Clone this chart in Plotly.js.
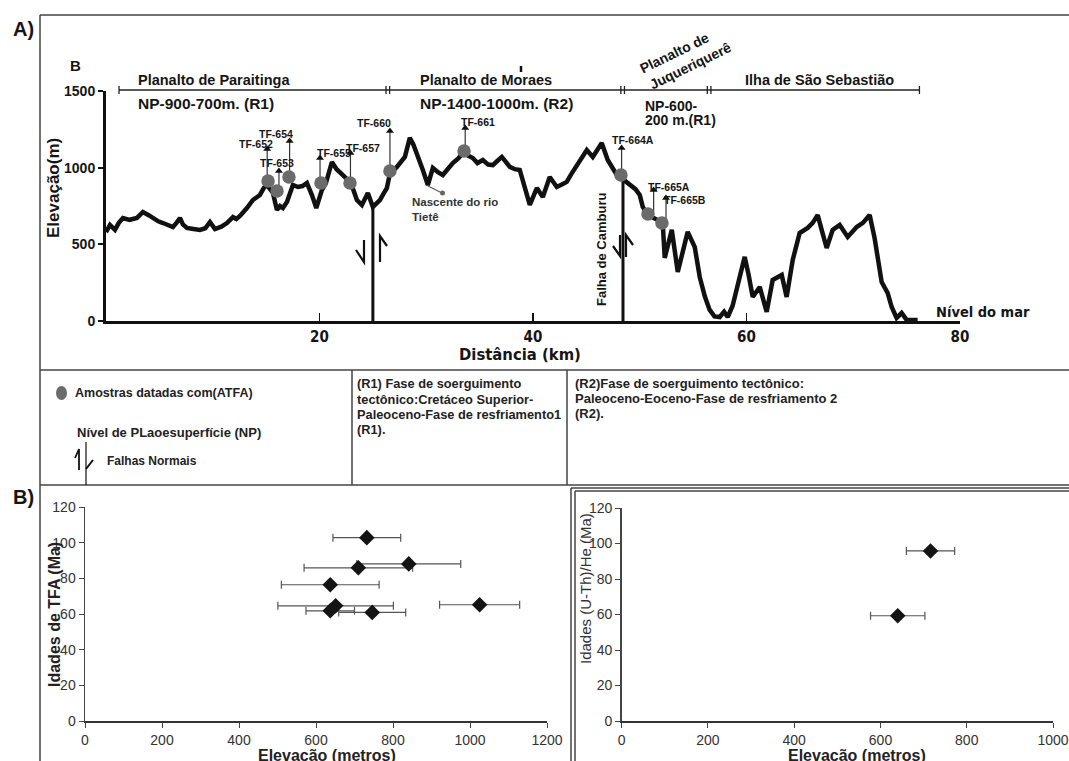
<!DOCTYPE html>
<html><head><meta charset="utf-8">
<script src="https://cdn.plot.ly/plotly-3.0.1.min.js"></script>
<style>html,body{margin:0;padding:0;background:#fff;}#chart{width:1069px;height:761px;}</style>
</head><body><div id="chart"></div>
<script>
// ---------- DATA ----------
const profileKm = [0,0.37,0.84,1.2,1.59,2.2,2.9,3.46,4.0,4.4,4.9,5.34,5.8,6.27,6.6,6.93,7.2,7.58,8.2,8.8,9.3,9.74,10.21,10.8,11.33,11.89,12.2,12.55,13.2,13.76,14.42,14.8,15.07,15.64,16.01,16.3,16.57,16.95,17.51,17.98,18.4,18.82,19.3,19.7,20.22,20.6,21.16,21.6,22.19,22.85,23.2,23.5,23.97,24.53,25.0,25.66,26.0,26.31,26.59,27.25,28.0,28.46,28.8,29.12,29.68,30.15,30.62,31.1,31.55,32.0,32.49,33.0,33.43,33.9,34.36,34.8,35.3,35.8,36.24,36.6,37.08,37.83,38.3,38.76,39.2,39.7,40.36,40.92,41.57,42.23,42.7,43.16,43.6,44.1,44.6,45.04,45.6,46.0,46.44,47.0,47.85,48.5,49.06,49.6,50.0,50.28,50.75,51.4,52.15,52.34,53.0,53.56,54.49,55.15,55.62,56.1,56.55,57.0,57.49,57.9,58.24,58.7,59.08,59.83,60.2,60.58,61.24,61.89,62.45,63.3,63.76,64.33,64.98,65.73,66.2,66.67,67.1,67.51,68.07,68.73,69.48,70.32,70.9,71.54,72.0,72.66,73.22,73.6,74.06,74.53,75.0,76.03];
const profileElev = [580,626,594,640,672,660,672,711,690,672,650,639,625,613,640,672,630,607,600,594,605,646,600,615,639,678,665,685,737,789,822,870,887,835,724,750,737,776,887,874,880,900,820,737,854,900,1037,990,952,907,850,789,757,835,744,789,830,867,960,1005,1070,1194,1150,1096,985,887,998,970,952,990,1030,1060,1096,1080,1063,1030,1050,1020,1017,1040,1070,1005,990,985,880,757,867,809,939,874,890,907,960,1017,1060,1115,1070,1120,1161,1050,952,920,887,860,822,744,691,670,642,411,594,320,581,483,287,160,72,30,26,60,26,100,202,418,300,157,222,59,267,300,157,398,574,607,640,691,580,476,594,626,548,613,640,691,541,254,183,91,20,52,7,7];

const sampleNames = ['TF-652','TF-653','TF-654','TF-655','TF-657','TF-660','TF-661','TF-664A','TF-665A','TF-665B'];
const sampleKm    = [15.18,16.02,17.14,20.14,22.86,26.60,33.54,48.24,50.77,52.08];
const sampleElev  = [913,848,939,900,900,978,1109,952,698,639];
const arrowKm     = [15.1,16.2,17.2,20.05,22.9,26.6,33.65,48.3,51.3,52.46];
const arrowTipElev= [1122,978,1174,1063,1096,1239,1259,1128,854,802];

const faultKm   = [25.0, 48.43];
const faultTopElev = [757, 930];

const regionNames = ['Planalto de Paraitinga','Planalto de Moraes','Planalto de Juqueriquerê','Ilha de São Sebastião'];
const regionBoundsKm = [1.22, 26.4, 48.4, 56.5, 76.2];

const profileXTicks = [20,40,60,80];
const profileYTicks = [0,500,1000,1500];

const tfaElev = [732,841,710,637,651,637,746,1025];
const tfaAge  = [102.8,88.1,85.9,76.4,64.6,61.8,60.9,65.2];
const tfaErr  = [88,135,141,127,150,63,87,104];

const uthElev = [716,640];
const uthAge  = [95.8,59.3];
const uthErr  = [56,63];

// ---------- HELPERS ----------
const W=1069, H=761;
const px = x => x/W;
const py = y => 1 - y/H;
const kmPx = km => 106 + km*10.675;
const SANS = 'Liberation Sans, Arial, sans-serif';
const NARROW = 'Liberation Sans Narrow, Arial Narrow, DejaVu Sans Condensed, Liberation Sans, sans-serif';
const INK = '#151515';

// ---------- TRACES ----------
const traces = [];
traces.push({x:profileKm, y:profileElev, mode:'lines', line:{color:'#111', width:4.5}, xaxis:'x', yaxis:'y', hoverinfo:'skip'});
faultKm.forEach((k,i)=>traces.push({x:[k,k], y:[0,faultTopElev[i]], mode:'lines', line:{color:'#111', width:3}, xaxis:'x', yaxis:'y', hoverinfo:'skip'}));
const shX=[], shY=[];
sampleNames.forEach((n,i)=>{ shX.push(arrowKm[i],arrowKm[i],null); shY.push(sampleElev[i], arrowTipElev[i], null); });
traces.push({x:shX, y:shY, mode:'lines', line:{color:'#333', width:1.2}, xaxis:'x', yaxis:'y', hoverinfo:'skip'});
traces.push({x:arrowKm, y:arrowTipElev, mode:'markers', marker:{symbol:'triangle-up', size:7, color:'#111'}, xaxis:'x', yaxis:'y', hoverinfo:'skip'});
traces.push({x:sampleKm, y:sampleElev, mode:'markers', marker:{symbol:'circle', size:13.5, color:'#6b6b6b'}, xaxis:'x', yaxis:'y', text:sampleNames, hoverinfo:'text'});

traces.push({x:tfaElev, y:tfaAge, mode:'markers', xaxis:'x2', yaxis:'y2',
  marker:{symbol:'diamond', size:12, color:'#141414'},
  error_x:{type:'data', array:tfaErr, visible:true, color:'#555', thickness:1.2, width:4}});
traces.push({x:uthElev, y:uthAge, mode:'markers', xaxis:'x3', yaxis:'y3',
  marker:{symbol:'diamond', size:12, color:'#141414'},
  error_x:{type:'data', array:uthErr, visible:true, color:'#555', thickness:1.2, width:4}});

// ---------- SHAPES ----------
const shapes = [];
const L = (x0,y0,x1,y1,c='#444',w=1.5)=>shapes.push({type:'line', xref:'paper', yref:'paper', x0:px(x0), y0:py(y0), x1:px(x1), y1:py(y1), line:{color:c, width:w}});
const P = (pts,c='#111',w=2)=>shapes.push({type:'path', xref:'paper', yref:'paper', path: pts.map((p,i)=>(i?'L ':'M ')+px(p[0])+' '+py(p[1])).join(' '), line:{color:c, width:w}});
// frames
L(40,15,1069,15); L(40,15,40,761);
L(40,370,1069,370); L(40,485,1069,485);
L(352,370,352,485); L(567,370,567,485);
L(571,488,571,761); L(575,491,575,761);
L(571,488,1069,488); L(575,491,1069,491);
// region bracket line
const bY = 90;
L(kmPx(regionBoundsKm[0]), bY, kmPx(regionBoundsKm[4]), bY, '#222', 1.3);
[0,4].forEach(i=>L(kmPx(regionBoundsKm[i]), bY-4, kmPx(regionBoundsKm[i]), bY+4, '#222', 1.3));
[1,2,3].forEach(i=>{ const c=kmPx(regionBoundsKm[i]); L(c-1.8,bY-4,c-1.8,bY+4,'#222',1.3); L(c+1.8,bY-4,c+1.8,bY+4,'#222',1.3); });
L(521,66,521,72,'#111',2.5);
// fault half arrows
P([[364,240],[364,262],[356,250]],'#111',2.2);
P([[380,262],[380,236],[387,246]],'#111',2.2);
P([[620,235],[620,256],[613,246]],'#111',2.2);
P([[626,257],[626,235],[633,245]],'#111',2.2);
// nascente pointer
L(428,186,442,193,'#555',1.2);
shapes.push({type:'circle', xref:'paper', yref:'paper', x0:px(440), x1:px(445), y0:py(190.5), y1:py(195.5), fillcolor:'#666', line:{width:0}});
// legend swatches
shapes.push({type:'circle', xref:'paper', yref:'paper', x0:px(56), x1:px(67), y0:py(386), y1:py(400), fillcolor:'#6b6b6b', line:{width:0}});
P([[79,470],[79,449],[75,458]],'#111',1.8);
L(86,442,86,485,'#111',1.2);
P([[86,469],[93,460]],'#111',2);

// ---------- ANNOTATIONS ----------
const ann = [];
const T = (text,x,y,o={})=>ann.push(Object.assign({xref:'paper', yref:'paper', x:px(x), y:py(y), text, showarrow:false,
   xanchor:'left', yanchor:'middle', font:{family:SANS, size:14.5, color:INK, weight:'bold'}}, o));
T('A)',11,29,{font:{family:SANS,size:20,color:INK,weight:'bold'}});
T('B)',11,497,{font:{family:SANS,size:20,color:INK,weight:'bold'}});
T('B',68,66,{font:{family:SANS,size:15,color:INK,weight:'bold'}});
T(regionNames[0],136,80);
T(regionNames[1],418,80);
T(regionNames[3],819,80,{xanchor:'center'});
T('Planalto de',674,53,{xanchor:'center', textangle:-26, font:{family:SANS,size:14,color:INK,weight:'bold'}});
T('Juqueriquerê',690,66,{xanchor:'center', textangle:-26, font:{family:SANS,size:14,color:INK,weight:'bold'}});
T('NP-900-700m. (R1)',136,103,{font:{family:SANS,size:15.5,color:INK,weight:'bold'}});
T('NP-1400-1000m. (R2)',418,103,{font:{family:SANS,size:15.5,color:INK,weight:'bold'}});
T('NP-600-',643,106,{font:{family:SANS,size:14,color:INK,weight:'bold'}});
T('200 m.(R1)',643,120,{font:{family:SANS,size:14,color:INK,weight:'bold'}});
// sample labels
const labelShift = {'TF-652':[-11,5],'TF-653':[-2,8],'TF-654':[-14,7],'TF-655':[14,5],'TF-657':[13,5],
  'TF-660':[-16,8],'TF-661':[13,6],'TF-664A':[11,8],'TF-665A':[15,3],'TF-665B':[19,-2]};
sampleNames.forEach((n,i)=>ann.push({xref:'x', yref:'y', x:arrowKm[i], y:arrowTipElev[i], text:n, showarrow:false,
  xshift:labelShift[n][0], yshift:labelShift[n][1], font:{family:SANS, size:10.5, color:INK, weight:'bold'}}));
T('Nascente do rio',410,202,{font:{family:SANS,size:11.5,color:'#333',weight:'bold'}});
T('Tietê',410,217,{font:{family:SANS,size:11.5,color:'#333',weight:'bold'}});
T('Falha de Camburu',602,250,{xanchor:'center', textangle:-90, font:{family:SANS,size:13,color:INK,weight:'bold'}});
T('Elevação(m)',53,188,{xanchor:'center', textangle:-90, font:{family:SANS,size:17,color:INK,weight:'bold'}});
T('Distância (km)',520,355,{xanchor:'center', font:{family:NARROW,size:16.5,color:INK,weight:'bold'}});
T('Nível do mar',934,312,{font:{family:NARROW,size:14.5,color:INK,weight:'bold'}});
// legend texts
T('Amostras datadas com(ATFA)',73,393,{font:{family:SANS,size:12.5,color:'#222',weight:'bold'}});
T('Nível de PLaoesuperfície (NP)',75,432,{font:{family:SANS,size:13,color:'#222',weight:'bold'}});
T('Falhas Normais',105,461,{font:{family:SANS,size:12,color:'#222',weight:'bold'}});
['(R1) Fase de soerguimento','tectônico:Cretáceo Superior-','Paleoceno-Fase de resfriamento1','(R1).'].forEach((s,i)=>
  T(s,355,384+i*15.3,{font:{family:SANS,size:12.8,color:'#222',weight:'bold'}}));
['(R2)Fase de soerguimento tectônico:','Paleoceno-Eoceno-Fase de resfriamento 2','(R2).'].forEach((s,i)=>
  T(s,573,384+i*14.5,{font:{family:SANS,size:13,color:'#222',weight:'bold'}}));
// B titles
T('Idades de TFA (Ma)',54,615,{xanchor:'center', textangle:-90, font:{family:SANS,size:16,color:'#222',weight:'bold'}});
T('Elevação (metros)',327,755,{xanchor:'center', font:{family:SANS,size:16,color:'#222',weight:'bold'}});
T('Idades (U-Th)/He (Ma)',585,589,{xanchor:'center', textangle:-90, font:{family:SANS,size:15,color:'#333'}});
T('Elevação (metros)',857,755,{xanchor:'center', font:{family:SANS,size:16,color:'#222',weight:'bold'}});

// ---------- LAYOUT ----------
const bAxisX = (dom, rng, anchor)=>({domain:dom, range:rng, anchor, dtick:200, tick0:0, ticks:'outside', ticklen:5, tickwidth:1, tickcolor:'#444',
   showline:true, linecolor:'#333', linewidth:2.2, showgrid:false, zeroline:false, tickfont:{family:SANS, size:14, color:'#333'}, fixedrange:true});
const bAxisY = (dom, anchor)=>({domain:dom, range:[0,120], anchor, dtick:20, ticks:'outside', ticklen:5, tickwidth:1, tickcolor:'#444',
   showline:true, linecolor:'#444', linewidth:1.5, showgrid:false, zeroline:false, tickfont:{family:SANS, size:14, color:'#333'}, fixedrange:true});

const layout = {
  width:W, height:H, margin:{l:0,r:0,t:0,b:0}, paper_bgcolor:'#fff', plot_bgcolor:'rgba(0,0,0,0)', showlegend:false,
  xaxis:{domain:[px(106),px(960)], range:[0,80], anchor:'y', tickvals:profileXTicks, ticks:'inside', ticklen:8, tickwidth:1.5, tickcolor:'#111',
    showline:true, linecolor:'#111', linewidth:2.5, showgrid:false, zeroline:false,
    tickfont:{family:NARROW, size:15, color:INK, weight:'bold'}, fixedrange:true},
  yaxis:{domain:[py(321),py(91)], range:[0,1500], anchor:'x', tickvals:profileYTicks, ticks:'outside', ticklen:5, tickwidth:2, tickcolor:'#111',
    showline:true, linecolor:'#111', linewidth:3, showgrid:false, zeroline:false,
    tickfont:{family:SANS, size:14, color:INK, weight:'bold'}, fixedrange:true},
  xaxis2: bAxisX([px(85),px(547)],[0,1200],'y2'),
  yaxis2: bAxisY([py(721),py(507)],'x2'),
  xaxis3: bAxisX([px(621.7),px(1053)],[0,1000],'y3'),
  yaxis3: bAxisY([py(721),py(508)],'x3'),
  shapes, annotations:ann
};
Plotly.newPlot('chart', traces, layout, {displayModeBar:false, staticPlot:true});
</script></body></html>
